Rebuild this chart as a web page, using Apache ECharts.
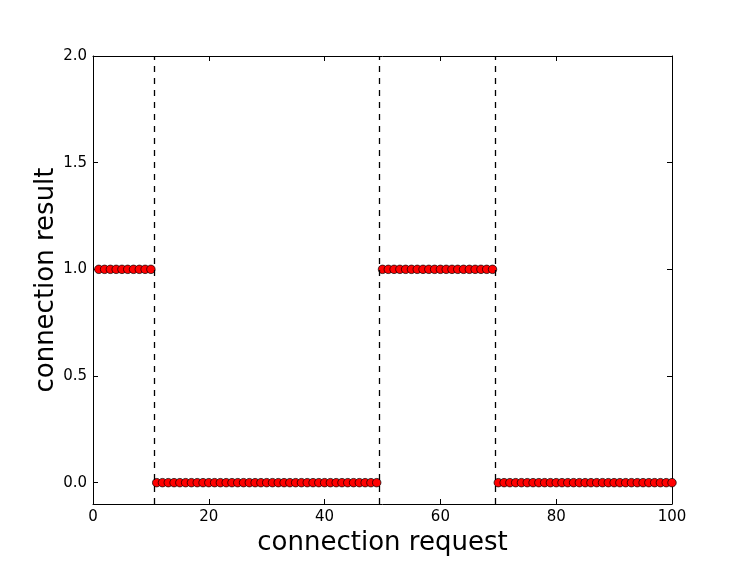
<!DOCTYPE html>
<html>
<head>
<meta charset="utf-8">
<title>connection result</title>
<script src="https://cdn.jsdelivr.net/npm/echarts@6/dist/echarts.min.js"></script>
<style>
    html, body { margin: 0; padding: 0; background: #fff; }
    #chart { width: 747px; height: 561px; }
</style>
</head>
<body>
<div id="chart"></div>
<script>
// 请求序号
const requests = [
    1, 2, 3, 4, 5, 6, 7, 8, 9, 10,
    11, 12, 13, 14, 15, 16, 17, 18, 19, 20,
    21, 22, 23, 24, 25, 26, 27, 28, 29, 30,
    31, 32, 33, 34, 35, 36, 37, 38, 39, 40,
    41, 42, 43, 44, 45, 46, 47, 48, 49, 50,
    51, 52, 53, 54, 55, 56, 57, 58, 59, 60,
    61, 62, 63, 64, 65, 66, 67, 68, 69, 70,
    71, 72, 73, 74, 75, 76, 77, 78, 79, 80,
    81, 82, 83, 84, 85, 86, 87, 88, 89, 90,
    91, 92, 93, 94, 95, 96, 97, 98, 99, 100
];
// 连接结果
const results = [
    1, 1, 1, 1, 1, 1, 1, 1, 1, 1,
    0, 0, 0, 0, 0, 0, 0, 0, 0, 0,
    0, 0, 0, 0, 0, 0, 0, 0, 0, 0,
    0, 0, 0, 0, 0, 0, 0, 0, 0, 0,
    0, 0, 0, 0, 0, 0, 0, 0, 0, 1,
    1, 1, 1, 1, 1, 1, 1, 1, 1, 1,
    1, 1, 1, 1, 1, 1, 1, 1, 1, 0,
    0, 0, 0, 0, 0, 0, 0, 0, 0, 0,
    0, 0, 0, 0, 0, 0, 0, 0, 0, 0,
    0, 0, 0, 0, 0, 0, 0, 0, 0, 0
];
// 切换位置（虚线）
const switchPoints = [10.5, 49.5, 69.5];
// 刻度
const xTicks = [0, 20, 40, 60, 80, 100];
const yTicks = [0, 0.5, 1.0, 1.5, 2.0];

const font = 'DejaVu Sans';
const chart = echarts.init(document.getElementById('chart'));

const tick = { show: true, inside: true, length: 5, lineStyle: { color: '#000', width: 1 } };
const line = { show: true, onZero: false, lineStyle: { color: '#000', width: 1 } };

chart.setOption({
    animation: false,
    grid: { left: 93, top: 56, width: 579, height: 448 },
    xAxis: [{
        type: 'value', min: 0, max: 100,
        axisLine: line,
        axisTick: Object.assign({ customValues: xTicks }, tick),
        axisLabel: { customValues: xTicks, color: '#000', fontFamily: font, fontSize: 15, margin: 6 },
        splitLine: { show: false },
        name: 'connection request', nameLocation: 'middle', nameGap: 26, nameMoveOverlap: false,
        nameTextStyle: { color: '#000', fontFamily: font, fontSize: 26 }
    }, {
        type: 'value', position: 'top', min: 0, max: 100,
        axisLine: line,
        axisTick: Object.assign({ customValues: xTicks }, tick),
        axisLabel: { show: false },
        splitLine: { show: false }
    }],
    yAxis: [{
        type: 'value', min: -0.1, max: 2.0,
        axisLine: line,
        axisTick: Object.assign({ customValues: yTicks }, tick),
        axisLabel: {
            customValues: yTicks, color: '#000', fontFamily: font, fontSize: 15, margin: 6,
            formatter: v => v.toFixed(1)
        },
        splitLine: { show: false },
        name: 'connection result', nameLocation: 'middle', nameGap: 34, nameMoveOverlap: false,
        nameTextStyle: { color: '#000', fontFamily: font, fontSize: 26 }
    }, {
        type: 'value', position: 'right', min: -0.1, max: 2.0,
        axisLine: line,
        axisTick: Object.assign({ customValues: yTicks }, tick),
        axisLabel: { show: false },
        splitLine: { show: false }
    }],
    series: [{
        type: 'scatter',
        data: requests.map((r, i) => [r, results[i]]),
        symbol: 'circle',
        symbolSize: 8.5,
        itemStyle: { color: '#ff0000', borderColor: '#000', borderWidth: 0.7, opacity: 1 },
        markLine: {
            silent: true,
            symbol: ['none', 'none'],
            label: { show: false },
            lineStyle: { color: '#000', width: 1.3, type: [6, 6] },
            data: switchPoints.map(x => ({ xAxis: x }))
        }
    }]
});
</script>
</body>
</html>
